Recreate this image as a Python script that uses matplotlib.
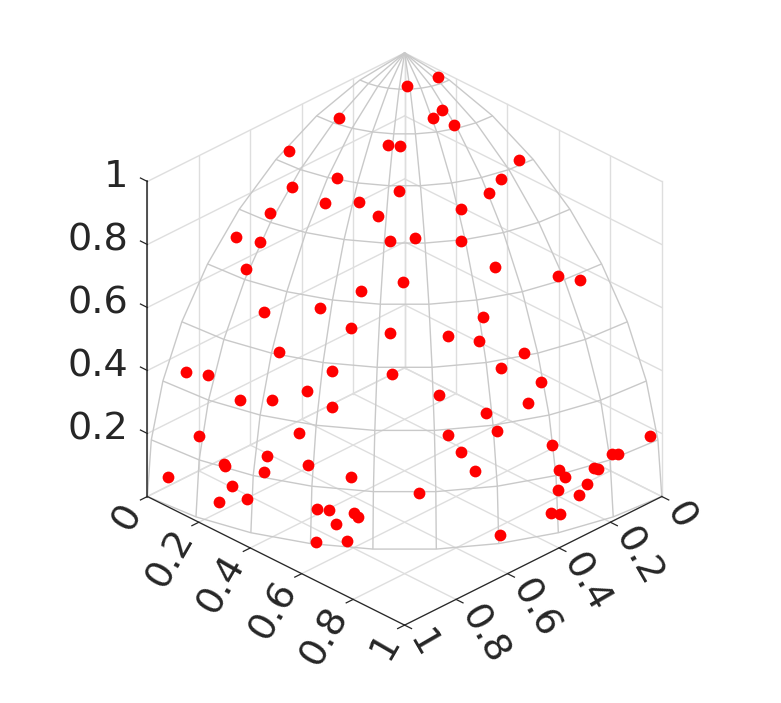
import numpy as np
import matplotlib
matplotlib.use('Agg')
import matplotlib.pyplot as plt
from mpl_toolkits.mplot3d import proj3d

# points
x = [0.317,0.467,0.3,0.279,0.111,0.458,0.54,0.375,0.525,0.467,0.459,0.617,0.697,0.681,0.479,0.739,0.604,0.515,0.694,0.777,0.668,0.605,0.803,0.745,0.643,0.919,0.905,0.801,0.895,0.857,0.776,0.845,0.958,0.901,0.85,0.951,0.951,0.912,0.993,0.787,0.951,0.967,0.94,0.852,0.835,0.795,0.788,0.826,0.858,0.81,0.02,0.105,0.144,0.118,0.041,0.129,0.186,0.279,0.426,0.334,0.295,0.146,0.09,0.39,0.492,0.428,0.331,0.404,0.316,0.569,0.369,0.478,0.466,0.58,0.028,0.332,0.56,0.161,0.145,0.539,0.326,0.312,0.223,0.214,0.249,0.336,0.278,0.668,0.36,0.335,0.496]
y = [0.063,0.016,0.235,0.262,0.119,0.197,0.102,0.353,0.217,0.291,0.357,0.093,0.042,0.117,0.423,0.122,0.436,0.509,0.364,0.23,0.461,0.547,0.316,0.463,0.594,0.068,0.141,0.422,0.255,0.341,0.494,0.433,0.158,0.365,0.474,0.248,0.253,0.364,0.072,0.58,0.281,0.246,0.327,0.513,0.54,0.597,0.608,0.559,0.514,0.586,0.149,0.251,0.256,0.31,0.486,0.502,0.514,0.499,0.468,0.554,0.646,0.743,0.772,0.696,0.659,0.718,0.797,0.778,0.846,0.701,0.847,0.795,0.824,0.747,0.981,0.907,0.781,0.969,0.973,0.812,0.927,0.936,0.961,0.964,0.96,0.933,0.956,0.725,0.931,0.941,0.868]
z = [0.948,0.886,0.927,0.926,0.989,0.869,0.837,0.859,0.825,0.837,0.815,0.783,0.717,0.725,0.771,0.664,0.669,0.692,0.622,0.589,0.586,0.58,0.507,0.482,0.485,0.39,0.404,0.426,0.369,0.388,0.394,0.316,0.241,0.236,0.231,0.186,0.179,0.189,0.09,0.212,0.128,0.071,0.1,0.109,0.111,0.107,0.097,0.071,0.006,0.019,0.991,0.964,0.958,0.945,0.875,0.857,0.84,0.823,0.776,0.764,0.706,0.655,0.631,0.605,0.571,0.552,0.507,0.483,0.43,0.432,0.384,0.377,0.325,0.328,0.196,0.26,0.281,0.188,0.182,0.224,0.188,0.164,0.165,0.159,0.126,0.131,0.1,0.171,0.065,0.056,0.026]

ticks = [0, 0.2, 0.4, 0.6, 0.8, 1]
tick_labels = ['0', '0.2', '0.4', '0.6', '0.8', '1']
grid_color = '#dedede'
mesh_color = '#c9c9c9'
axis_color = '#262626'
label_size = 27.5

fig = plt.figure(figsize=(7.81, 7.03), dpi=100)
ax = fig.add_axes([4.6/781, 3/703, 1, 1], projection='3d', computed_zorder=False)
ax.view_init(elev=30, azim=45)
ax.set_proj_type('ortho')
ax.set_box_aspect((1, 1, 1), zoom=0.87)
ax.set_xlim(0, 1)
ax.set_ylim(0, 1)
ax.set_zlim(0, 1)
ax.set_xticks([])
ax.set_yticks([])
ax.set_zticks([])
ax.set_axis_off()


# Text3D picks its own angle, so place the labels in the projected plane
def label(px, py, pz, s, **kw):
    a, b, _ = proj3d.proj_transform(px, py, pz, ax.get_proj())
    ax.text2D(a, b, s, transform=ax.transData, fontsize=label_size, color=axis_color,
              rotation_mode='anchor', va='center', **kw)


# back walls and floor
for t in ticks:
    ax.plot([t, t], [0, 1], [0, 0], color=grid_color, lw=1, zorder=1)
    ax.plot([0, 1], [t, t], [0, 0], color=grid_color, lw=1, zorder=1)
    ax.plot([t, t], [0, 0], [0, 1], color=grid_color, lw=1, zorder=1)
    ax.plot([0, 0], [t, t], [0, 1], color=grid_color, lw=1, zorder=1)
    ax.plot([0, 1], [0, 0], [t, t], color=grid_color, lw=1, zorder=1)
    ax.plot([0, 0], [0, 1], [t, t], color=grid_color, lw=1, zorder=1)

# sphere octant, 10 degree wires
polar = np.radians(np.arange(0, 91, 10))
azimuth = np.radians(np.arange(0, 91, 10))
P, A = np.meshgrid(polar, azimuth)
ax.plot_wireframe(np.sin(P)*np.cos(A), np.sin(P)*np.sin(A), np.cos(P),
                  color=mesh_color, lw=1, zorder=2)

# axes lines and ticks
ax.plot([1, 1], [0, 1], [0, 0], color=axis_color, lw=0.9, zorder=3)
ax.plot([0, 1], [1, 1], [0, 0], color=axis_color, lw=0.9, zorder=3)
ax.plot([1, 1], [0, 0], [0, 1], color=axis_color, lw=1.1, zorder=3)
for t, lab in zip(ticks, tick_labels):
    ax.plot([1, 1.027], [t, t], [0, 0], color=axis_color, lw=0.9, zorder=3)
    ax.plot([t, t], [1, 1.027], [0, 0], color=axis_color, lw=0.9, zorder=3)
    label(1.052, t, -0.011, lab, rotation=60, ha='right')
    label(t, 1.047, -0.009, lab, rotation=-60, ha='left')
    if t > 0:
        ax.plot([1, 1], [0, -0.027], [t, t], color=axis_color, lw=0.9, zorder=3)
        label(1, -0.073, t - 0.016, lab, ha='right')

ax.scatter(x, y, z, color='#ff0000', s=72, linewidths=0, depthshade=False, zorder=4)

ax.set_xlim(0, 1)
ax.set_ylim(0, 1)
ax.set_zlim(0, 1)
fig.savefig('out.png', dpi=100)
